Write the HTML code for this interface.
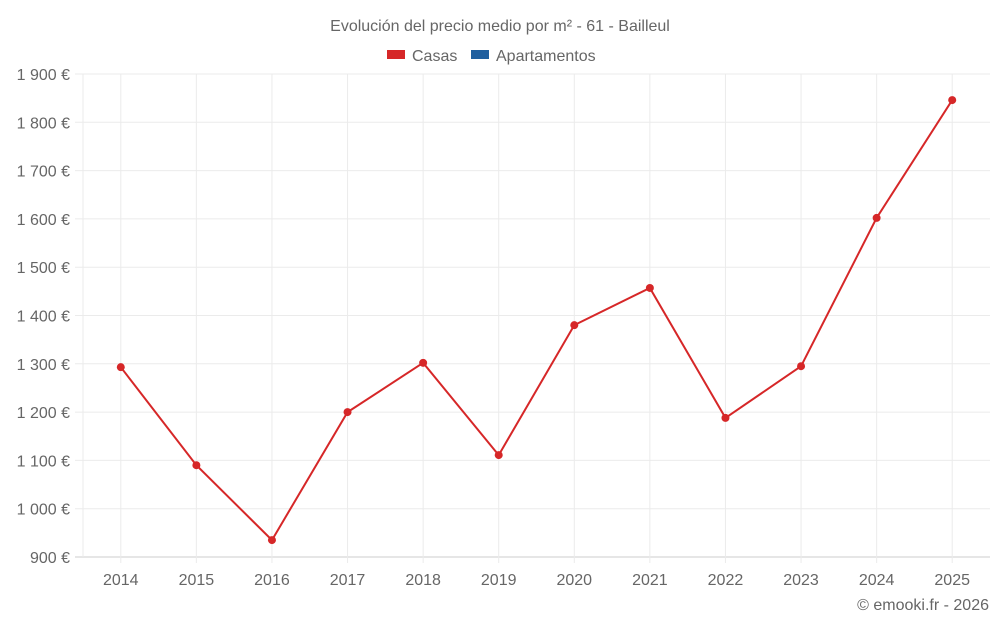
<!DOCTYPE html>
<html><head><meta charset="utf-8"><style>
body{margin:0;background:#fff;font-family:"Liberation Sans",sans-serif;}
svg text{font-family:"Liberation Sans",sans-serif;fill:#666;}
</style></head><body>
<svg id="c" width="1000" height="625">
<text x="500" y="31" text-anchor="middle" font-size="16">Evolución del precio medio por m² - 61 - Bailleul</text>
<g><rect x="387" y="50" width="18" height="9" fill="#d62728"/><text x="412" y="61" font-size="16">Casas</text></g>
<g><rect x="471" y="50" width="18" height="9" fill="#1f5f9f"/><text x="496" y="61" font-size="16">Apartamentos</text></g>
<text x="989" y="610" text-anchor="end" font-size="16">© emooki.fr - 2026</text>
<g id="grid"></g><g id="axes"></g><g id="series"></g>
</svg>
<script>
const years=["2014","2015","2016","2017","2018","2019","2020","2021","2022","2023","2024","2025"];
const casas=[1293,1090,935,1200,1302,1111,1380,1457,1188,1295,1602,1846];
const yTicks=[900,1000,1100,1200,1300,1400,1500,1600,1700,1800,1900];
const yTickLabels=["900 €","1 000 €","1 100 €","1 200 €","1 300 €","1 400 €","1 500 €","1 600 €","1 700 €","1 800 €","1 900 €"];
const L=83,R=990,T=74,B=557,ymin=900,ymax=1900;
const bw=(R-L)/years.length;
const x=i=>L+bw*(i+0.5);
const y=v=>B-(v-ymin)/(ymax-ymin)*(B-T);
const ns="http://www.w3.org/2000/svg";
function mk(tag,attrs,parent,txt){const e=document.createElementNS(ns,tag);for(const k in attrs)e.setAttribute(k,attrs[k]);if(txt!==undefined)e.textContent=txt;document.getElementById(parent).appendChild(e);return e;}
yTicks.forEach((t,i)=>{
  const g=mk('line',{x1:75,x2:R,y1:y(t),y2:y(t),stroke:i===0?'#ccc':'#ebebeb','stroke-width':1},'grid');
  
  
  const l=mk('text',{x:70,y:y(t)+6,'text-anchor':'end','font-size':16},'axes',yTickLabels[i]);
  
  
});
const v0=mk('line',{x1:L,x2:L,y1:T,y2:B,stroke:'#ebebeb'},'grid');


years.forEach((yr,i)=>{
  const g=mk('line',{x1:x(i),x2:x(i),y1:T,y2:B+6,stroke:'#ebebeb'},'grid');
  
  
  const l=mk('text',{x:x(i),y:585,'text-anchor':'middle','font-size':16},'axes',yr);
  
  
});
const pl=mk('polyline',{points:casas.map((v,i)=>x(i)+','+y(v)).join(' '),fill:'none',stroke:'#d62728','stroke-width':2},'series');


casas.forEach((v,i)=>{
  const c=mk('circle',{cx:x(i),cy:y(v),r:4,fill:'#d62728'},'series');
  
  
});
</script>
</body></html>
